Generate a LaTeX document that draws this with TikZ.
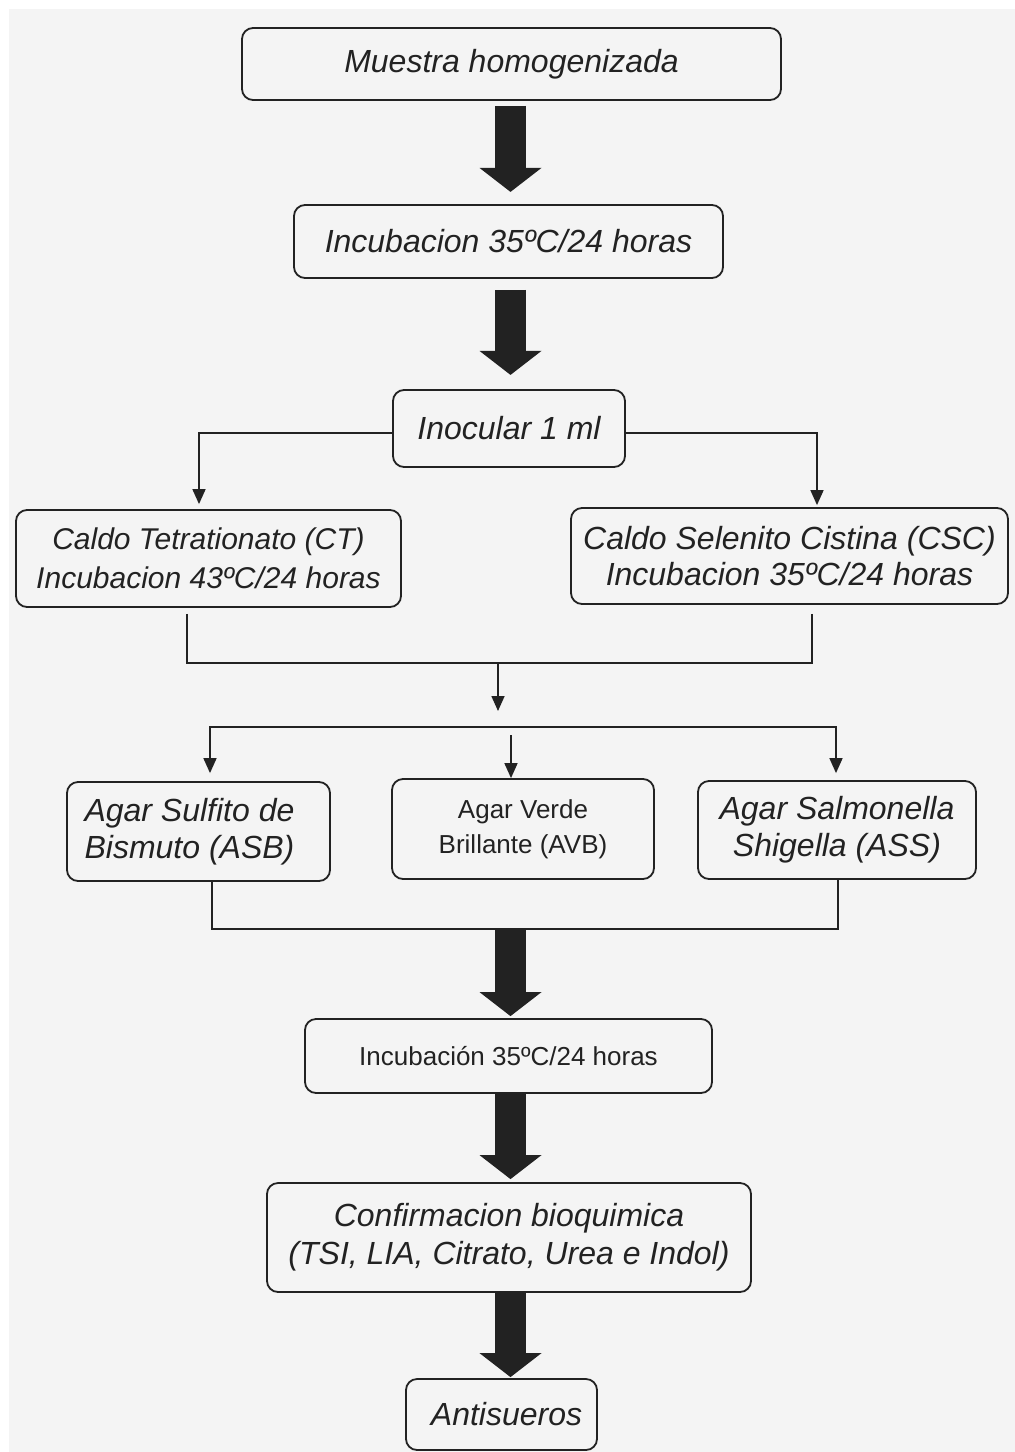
\documentclass[tikz,border=0pt]{standalone}
\usepackage{fontspec}
\setmainfont{Liberation Sans}
\usetikzlibrary{arrows.meta,calc}
\definecolor{bg}{HTML}{F4F4F4}
\definecolor{ink}{HTML}{222222}
\begin{document}
\begin{tikzpicture}[x=1pt,y=-1pt,
  box/.style={draw=ink, line width=1.8pt, rounded corners=11pt, inner sep=0pt, align=center, text=ink, fill=bg,
    font=\itshape\fontsize{32}{37}\selectfont},
  uprbox/.style={box, font=\fontsize{26}{35}\selectfont},
  bigarrow/.style={draw=ink, line width=31pt, -{Triangle[width=62pt,length=24pt,line width=0pt]}},
  tarrow/.style={draw=ink, line width=1.6pt, -{Triangle[width=13pt,length=15pt]}},
  tline/.style={draw=ink, line width=1.6pt}]
\useasboundingbox (0,0) rectangle (1015,1452);
\fill[white] (0,0) rectangle (1015,1452);
\fill[bg] (9,9) rectangle (1015,1452);

% nodes
\node[box, minimum width=539pt, minimum height=72pt] (b1) at (511.5,64) {Muestra homogenizada};
\node[box, minimum width=429pt, minimum height=73pt] (b2) at (508.5,241.5) {Incubacion 35ºC/24 horas};
\node[box, minimum width=232pt, minimum height=77pt] (b3) at (509,428.5) {Inocular 1 ml};
\node[box, minimum width=385pt, minimum height=97pt, font=\itshape\fontsize{30}{39}\selectfont] (ct) at (208.5,558.5) {Caldo Tetrationato (CT)\\Incubacion 43ºC/24 horas};
\node[box, minimum width=437pt, minimum height=96pt, font=\itshape\fontsize{32}{36}\selectfont] (csc) at (789.5,556) {Caldo Selenito Cistina (CSC)\\Incubacion 35ºC/24 horas};
\node[box, minimum width=263pt, minimum height=99pt] (asb) at (198.5,831.5) {\hspace*{-18pt}Agar Sulfito de\\\hspace*{-18pt}Bismuto (ASB)};
\node[uprbox, minimum width=262pt, minimum height=100pt] (avb) at (523,829) {Agar Verde\\Brillante (AVB)};
\node[box, minimum width=278pt, minimum height=98pt] (ass) at (837,830) {Agar Salmonella\\Shigella (ASS)};
\node[uprbox, minimum width=407pt, minimum height=74pt] (inc) at (508.5,1056) {Incubación 35ºC/24 horas};
\node[box, minimum width=484pt, minimum height=109pt, font=\itshape\fontsize{32}{38}\selectfont] (conf) at (509,1237.5) {Confirmacion bioquimica\\(TSI, LIA, Citrato, Urea e Indol)};
\node[box, minimum width=191pt, minimum height=71pt] (anti) at (501.5,1414.5) {\hspace*{10pt}Antisueros};

% junction points
\coordinate (j1) at (498,663);
\coordinate (j2) at (511,727);
\coordinate (j3) at (510.5,929);

% big arrows
\draw[bigarrow] ($(b1.south)+(-1,5)$) -- ($(b1.south)+(-1,91)$);
\draw[bigarrow] ($(b2.south)+(2,11)$) -- ($(b2.south)+(2,96)$);
\draw[bigarrow] ($(j3)+(0,1)$) -- ($(inc.north)+(2,-2)$);
\draw[bigarrow] ($(inc.south)+(2,0)$) -- ($(conf.north)+(1.5,-3)$);
\draw[bigarrow] ($(conf.south)+(1.5,0)$) -- ($(anti.north)+(9,-1)$);

% split from Inocular
\draw[tarrow] ($(b3.west)+(0,4.5)$) -| ($(ct.north)+(-9.5,-5)$);
\draw[tarrow] ($(b3.east)+(0,4.5)$) -| ($(csc.north)+(27.5,-2)$);

% merge of broths
\draw[tline] ($(ct.south)+(-21.5,6)$) |- (j1);
\draw[tline] ($(csc.south)+(22.5,9)$) |- (j1);
\draw[tarrow] (j1) -- ($(j1)+(0,48)$);

% split to agars
\draw[tarrow] (j2) -| ($(asb.north)+(11.5,-8)$);
\draw[tarrow] (j2) -| ($(ass.north)+(-1,-7)$);
\draw[tarrow] ($(j2)+(0,8)$) -- ($(avb.north)+(-12,0)$);

% merge of agars
\draw[tline] ($(asb.south)+(13.5,0)$) |- (j3);
\draw[tline] ($(ass.south)+(1,0)$) |- (j3);
\end{tikzpicture}
\end{document}
